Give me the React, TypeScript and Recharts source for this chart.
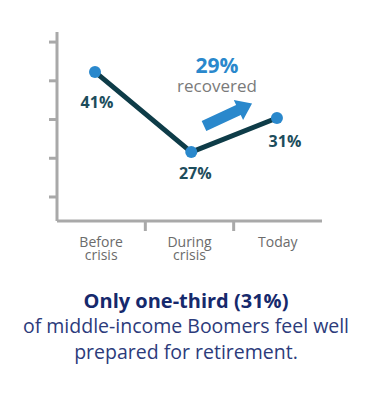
import { LineChart, Line, XAxis, YAxis, LabelList } from 'recharts'

const categories = ['Before crisis', 'During crisis', 'Today']
// printed values
const shares = [41, 27, 31]
// heights as drawn against the unlabeled axis ticks
const plotted = [42.3, 21.6, 30.4]
// horizontal positions, in category bands (0..3)
const xPos = [0.43, 1.52, 2.49]
const yTicks = [10, 20, 30, 40, 50]
const xTicks = [0.5, 1, 1.5, 2, 2.5]

const labelDx = [2, 4, 8]
const labelDy = [36, 27, 29]

const FONT = '"Open Sans", "Noto Sans", sans-serif'
const AXIS = '#a9a9a9'

const data = categories.map((name, i) => ({
  name,
  x: xPos[i],
  y: plotted[i],
  label: `${shares[i]}%`,
}))

function XTick(props: any) {
  const { x, y, payload } = props
  const v = payload.value
  if (Number.isInteger(v)) {
    return <line x1={x} x2={x} y1={y} y2={y + 10} stroke={AXIS} strokeWidth={3} />
  }
  const words = categories[Math.floor(v)].split(' ')
  return (
    <text x={x} y={y} textAnchor="middle" fill="#6b6b6b" fontSize={14} fontFamily={FONT}>
      {words.map((w, i) => (
        <tspan key={i} x={x} dy={i === 0 ? 26 : 13}>
          {w}
        </tspan>
      ))}
    </text>
  )
}

function PointLabel(props: any) {
  const { x, y, value, index } = props
  return (
    <text
      x={x + labelDx[index]}
      y={y + labelDy[index]}
      textAnchor="middle"
      fill="#1d4d5c"
      fontSize={16}
      fontWeight={700}
      fontFamily={FONT}
    >
      {value}
    </text>
  )
}

export default function App() {
  return (
    <div style={{ position: 'absolute', left: 0, top: 0, width: 372, height: 401, background: '#fff' }}>
      <LineChart width={372} height={270} data={data} margin={{ top: 32, right: 50, bottom: 9, left: 0 }}>
        <XAxis
          type="number"
          dataKey="x"
          domain={[0, 3]}
          ticks={xTicks}
          interval={0}
          tickLine={false}
          tickSize={0}
          tickMargin={0}
          axisLine={{ stroke: AXIS, strokeWidth: 3 }}
          tick={<XTick />}
          height={40}
        />
        <YAxis
          type="number"
          domain={[3.8, 52.6]}
          ticks={yTicks}
          interval={0}
          tick={() => <g />}
          tickSize={8}
          tickLine={{ stroke: AXIS, strokeWidth: 3 }}
          axisLine={{ stroke: AXIS, strokeWidth: 3 }}
          width={57}
        />
        <Line
          type="linear"
          dataKey="y"
          stroke="#0e3c48"
          strokeWidth={5}
          dot={{ r: 6, fill: '#2a88cc', stroke: 'none' }}
          isAnimationActive={false}
        >
          <LabelList dataKey="label" content={<PointLabel />} />
        </Line>
      </LineChart>
      <svg
        width={372}
        height={401}
        style={{ position: 'absolute', left: 0, top: 0, pointerEvents: 'none' }}
        fontFamily={FONT}
      >
        <text x={217} y={73} textAnchor="middle" fill="#2a88cc" fontSize={21} fontWeight={700}>
          29%
        </text>
        <text x={217} y={92} textAnchor="middle" fill="#7a7a7a" fontSize={17}>
          recovered
        </text>
        <polygon
          points="0,-5.5 38,-5.5 38,-11 53,0 38,11 38,5.5 0,5.5"
          fill="#2a88cc"
          transform="translate(204,126) rotate(-25)"
        />
        <text x={186} y={308} textAnchor="middle" fill="#16296c" fontSize={20} fontWeight={700}>
          Only one-third (31%)
        </text>
        <text x={186} y={333} textAnchor="middle" fill="#2c3b7b" fontSize={19.5}>
          of middle-income Boomers feel well
        </text>
        <text x={186} y={359} textAnchor="middle" fill="#2c3b7b" fontSize={19.5}>
          prepared for retirement.
        </text>
      </svg>
    </div>
  )
}
